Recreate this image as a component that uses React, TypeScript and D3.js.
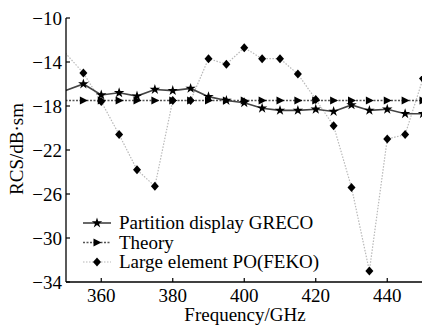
import React from "react";
import * as d3 from "d3";

const freqs = [350, 355, 360, 365, 370, 375, 380, 385, 390, 395, 400, 405, 410, 415, 420, 425, 430, 435, 440, 445, 450];
const greco = [-16.6, -16.0, -17.0, -16.8, -17.1, -16.5, -16.6, -16.4, -17.15, -17.5, -17.7, -18.2, -18.4, -18.4, -18.3, -18.5, -17.9, -18.4, -18.3, -18.7, -18.7];
const theory = [-17.5, -17.5, -17.5, -17.5, -17.5, -17.5, -17.5, -17.5, -17.5, -17.5, -17.5, -17.5, -17.5, -17.5, -17.5, -17.5, -17.5, -17.5, -17.5, -17.5, -17.5];
const feko = [-13.2, -15.0, -17.6, -20.6, -23.8, -25.3, -17.5, -17.5, -13.7, -14.2, -12.7, -13.7, -13.7, -15.1, -17.4, -19.8, -25.4, -33.0, -21.0, -20.6, -15.5];
const xTicks = [360, 380, 400, 420, 440];
const yTicks = [-10, -14, -18, -22, -26, -30, -34];
const legendLabels = ["Partition display GRECO", "Theory", "Large element PO(FEKO)"];

const FONT = "Liberation Serif, Times New Roman, DejaVu Serif, serif";
const FS = 19;

const x = d3.scaleLinear().domain([350, 450]).range([65.5, 423]);
const y = d3.scaleLinear().domain([-34, -10]).range([282, 18]);

const starPath = d3.symbol().type(d3.symbolStar).size(34)() as string;
const triPath = "M-3.5,-4L4.5,0L-3.5,4Z";
const diaPath = "M0,-4.5L4,0L0,4.5L-4,0Z";

function Marker({ kind, cx, cy }: { kind: string; cx: number; cy: number }) {
  const d = kind === "star" ? starPath : kind === "tri" ? triPath : diaPath;
  return <path d={d} transform={`translate(${cx},${cy})`} fill="#000" />;
}

export default function App() {
  const lineGen = (vals: number[]) =>
    d3.line<number>().x((_, i) => x(freqs[i])).y((v) => y(v))(vals) as string;

  const series = [
    { vals: feko, stroke: "#b8b8b8", dash: "1.5,1.5", width: 1.2, kind: "dia" },
    { vals: theory, stroke: "#555", dash: "2,1.5", width: 1.6, kind: "tri" },
    { vals: greco, stroke: "#444", dash: "", width: 1.6, kind: "star" },
  ];

  const legendRows = [
    { label: legendLabels[0], stroke: "#444", dash: "", width: 1.6, kind: "star", y: 223 },
    { label: legendLabels[1], stroke: "#555", dash: "2,1.5", width: 1.6, kind: "tri", y: 242.5 },
    { label: legendLabels[2], stroke: "#b8b8b8", dash: "1.5,1.5", width: 1.2, kind: "dia", y: 262 },
  ];

  return (
    <svg width={422} height={325} style={{ position: "absolute", left: 0, top: 0, fontFamily: FONT }}>
      <rect width={422} height={325} fill="#fff" />
      <defs>
        <clipPath id="plotclip">
          <rect x={66} y={10} width={360} height={272} />
        </clipPath>
      </defs>
      <g clipPath="url(#plotclip)">
        {series.map((s, si) => (
          <g key={si}>
            <path d={lineGen(s.vals)} fill="none" stroke={s.stroke} strokeWidth={s.width} strokeDasharray={s.dash || undefined} />
            {s.vals.map((v, i) =>
              i === 0 ? null : <Marker key={i} kind={s.kind} cx={x(freqs[i])} cy={y(v)} />
            )}
          </g>
        ))}
      </g>
      <line x1={66} x2={66} y1={y(-10)} y2={282} stroke="#000" strokeWidth={1.3} />
      <line x1={66} x2={422} y1={282} y2={282} stroke="#000" strokeWidth={1.3} />
      {yTicks.map((t) => (
        <g key={t}>
          <line x1={66} x2={70} y1={y(t)} y2={y(t)} stroke="#000" strokeWidth={1.2} />
          <text x={62} y={y(t)} dy="0.35em" textAnchor="end" fontSize={FS}>
            {"\u2212" + Math.abs(t)}
          </text>
        </g>
      ))}
      {xTicks.map((t) => (
        <g key={t}>
          <line x1={x(t)} x2={x(t)} y1={282} y2={278} stroke="#000" strokeWidth={1.2} />
          <text x={x(t)} y={302} textAnchor="middle" fontSize={FS}>
            {t}
          </text>
        </g>
      ))}
      <text x={245} y={321} textAnchor="middle" fontSize={FS}>
        Frequency/GHz
      </text>
      <text transform="translate(23,149) rotate(-90)" textAnchor="middle" fontSize={FS}>
        RCS/dB·sm
      </text>
      {legendRows.map((r, i) => (
        <g key={i}>
          <line x1={83} x2={111} y1={r.y} y2={r.y} stroke={r.stroke} strokeWidth={r.width} strokeDasharray={r.dash || undefined} />
          <Marker kind={r.kind} cx={97} cy={r.y} />
          <text x={119} y={r.y} dy="0.33em" fontSize={FS}>
            {r.label}
          </text>
        </g>
      ))}
    </svg>
  );
}
